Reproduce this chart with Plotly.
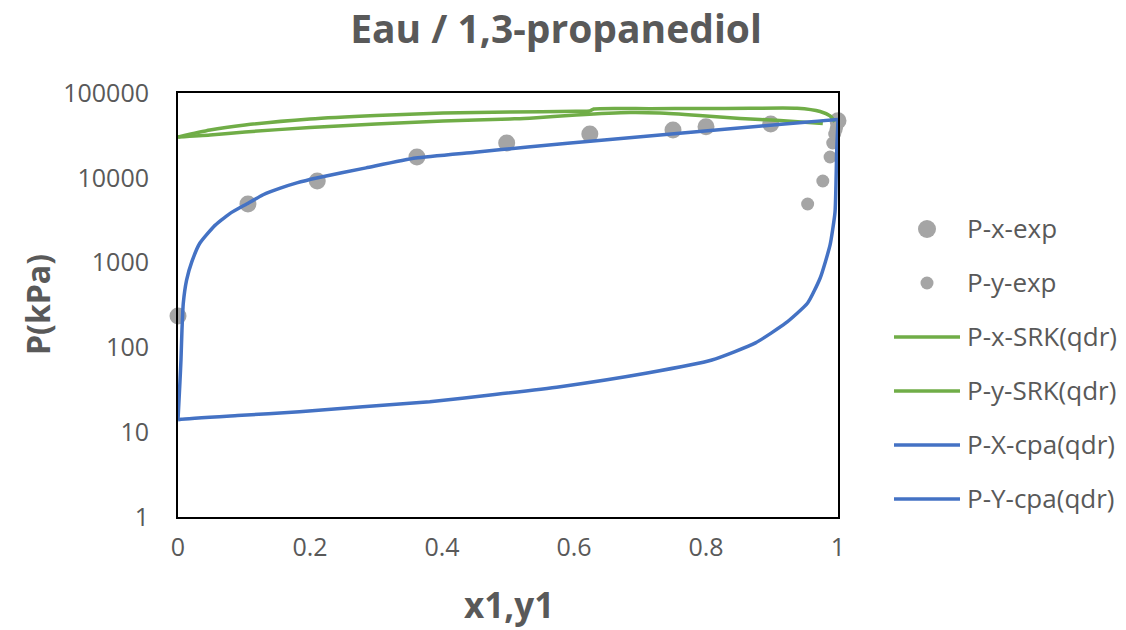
import plotly.graph_objects as go

# ---------------- data ----------------
x_exp = [0, 0.106, 0.211, 0.362, 0.498, 0.624, 0.75, 0.80, 0.898, 1.0]
P_x_exp = [234, 4910, 9170, 17590, 25720, 32850, 36620, 40050, 43100, 47000]

y_exp = [0, 0.954, 0.977, 0.988, 0.992, 0.995, 0.997, 0.998, 0.999, 1.0]
P_y_exp = [234, 4910, 9170, 17590, 25720, 32850, 36620, 40050, 43100, 47000]

x_srk = [0, 0.0485, 0.1015, 0.2, 0.3, 0.4015, 0.503, 0.603, 0.624, 0.630,
         0.715, 0.791, 0.867, 0.938, 0.973, 0.988, 0.995]
P_x_srk = [30280, 36620, 41940, 49360, 54290, 58120, 59700, 60830, 61340, 64770,
           65300, 65660, 66020, 66020, 60500, 53560, 45870]

y_srk = [0, 0.0485, 0.1015, 0.2, 0.3, 0.4015, 0.503, 0.533, 0.603, 0.685,
         0.73, 0.79, 0.852, 0.912, 0.977]
P_y_srk = [30280, 31960, 34690, 39200, 43100, 46750, 49360, 50310, 55030, 58890,
           58120, 54290, 50040, 47390, 43650]

x_cpa = [0, 0.003, 0.0045, 0.006, 0.008, 0.013, 0.021, 0.033, 0.054, 0.065,
         0.079, 0.104, 0.129, 0.155, 0.18, 0.21, 0.285, 0.36, 0.45, 0.53,
         0.65, 0.76, 0.88, 0.95, 0.99, 1.0]
P_x_cpa = [14, 40, 71, 160, 331, 623, 1025, 1690, 2650, 3140,
           3810, 4910, 6310, 7550, 8710, 9950, 13100, 17100, 20040, 23100,
           28060, 33480, 40470, 45260, 48040, 48600]

y_cpa = [0, 0.0045, 0.09, 0.184, 0.28, 0.3815, 0.48, 0.579, 0.711, 0.809,
         0.875, 0.921, 0.954, 0.973, 0.988, 0.9955, 0.998, 1.0]
P_y_cpa = [14, 14.2, 15.7, 17.4, 20.0, 22.9, 27.8, 34.4, 49.9, 71,
           113, 194, 334, 658, 1614, 3950, 20100, 48600]

series_names = ["P-x-exp", "P-y-exp", "P-x-SRK(qdr)", "P-y-SRK(qdr)",
                "P-X-cpa(qdr)", "P-Y-cpa(qdr)"]

x_ticks = [0, 0.2, 0.4, 0.6, 0.8, 1]
x_tick_text = ["0", "0.2", "0.4", "0.6", "0.8", "1"]
y_ticks = [1, 10, 100, 1000, 10000, 100000]
y_tick_text = ["1", "10", "100", "1000", "10000", "100000"]

# ---------------- styles ----------------
GREY = "#A5A5A5"
GREEN = "#70AD47"
BLUE = "#4472C4"
TEXT = "#595959"
FONT = "Open Sans"
LW = 3.5

fig = go.Figure()
fig.add_trace(go.Scatter(x=x_exp, y=P_x_exp, mode="markers", name=series_names[0],
                         marker=dict(color=GREY, size=17), cliponaxis=False))
fig.add_trace(go.Scatter(x=y_exp, y=P_y_exp, mode="markers", name=series_names[1],
                         marker=dict(color=GREY, size=13), cliponaxis=False))
fig.add_trace(go.Scatter(x=x_srk, y=P_x_srk, mode="lines", name=series_names[2],
                         line=dict(color=GREEN, width=LW, shape="spline", smoothing=0.6),
                         cliponaxis=False))
fig.add_trace(go.Scatter(x=y_srk, y=P_y_srk, mode="lines", name=series_names[3],
                         line=dict(color=GREEN, width=LW, shape="spline", smoothing=0.6),
                         cliponaxis=False))
fig.add_trace(go.Scatter(x=x_cpa, y=P_x_cpa, mode="lines", name=series_names[4],
                         line=dict(color=BLUE, width=LW, shape="spline", smoothing=0.5),
                         cliponaxis=False))
fig.add_trace(go.Scatter(x=y_cpa, y=P_y_cpa, mode="lines", name=series_names[5],
                         line=dict(color=BLUE, width=LW, shape="spline", smoothing=0.5),
                         cliponaxis=False))

# ---------------- custom legend (to mimic the long line samples) ----------------
L_LEFT, L_W, T_H = 178, 660, 424  # plot area geometry in px


def px_x(p):
    return (p - L_LEFT) / L_W


def px_y(p):
    return (517 - p) / T_H


rows = [228, 282, 336, 390, 444, 498]
kinds = [("marker", GREY, 18), ("marker", GREY, 13), ("line", GREEN, 0),
         ("line", GREEN, 0), ("line", BLUE, 0), ("line", BLUE, 0)]
shapes = []
annotations = []
for name, ry, (kind, col, sz) in zip(series_names, rows, kinds):
    if kind == "marker":
        shapes.append(dict(type="circle", xref="paper", yref="paper",
                           xsizemode="pixel", ysizemode="pixel",
                           xanchor=px_x(927), yanchor=px_y(ry + 1),
                           x0=-sz / 2, x1=sz / 2, y0=-sz / 2, y1=sz / 2,
                           fillcolor=col, line=dict(width=0)))
    else:
        shapes.append(dict(type="line", xref="paper", yref="paper",
                           x0=px_x(894), x1=px_x(960), y0=px_y(ry + 1), y1=px_y(ry + 1),
                           line=dict(color=col, width=LW)))
    annotations.append(dict(text=name, xref="paper", yref="paper",
                            x=px_x(965), y=px_y(ry), xanchor="left", yanchor="middle",
                            showarrow=False, font=dict(family=FONT, size=26, color=TEXT)))

annotations.append(dict(text="<b>x1,y1</b>", xref="paper", yref="paper",
                        x=px_x(509), y=px_y(604), xanchor="center", yanchor="middle",
                        showarrow=False, font=dict(family=FONT, size=35, color=TEXT)))
annotations.append(dict(text="<b>P(kPa)</b>", xref="paper", yref="paper",
                        x=px_x(37), y=px_y(305), xanchor="center", yanchor="middle",
                        textangle=-90, showarrow=False,
                        font=dict(family=FONT, size=32, color=TEXT)))

fig.update_layout(
    width=1126, height=630,
    margin=dict(l=178, r=288, t=93, b=113),
    paper_bgcolor="white", plot_bgcolor="white",
    showlegend=False,
    title=dict(text="<b>Eau / 1,3-propanediol</b>", x=556 / 1126, y=1 - 29 / 630,
               xanchor="center", yanchor="middle",
               font=dict(family=FONT, size=39, color=TEXT)),
    shapes=shapes,
    annotations=annotations,
)
fig.update_xaxes(range=[0, 1], tickvals=x_ticks, ticktext=x_tick_text,
                 showgrid=False, zeroline=False, showline=True, mirror=True,
                 linecolor="black", linewidth=2, ticks="",
                 ticklabelstandoff=7,
                 tickfont=dict(family=FONT, size=25, color=TEXT))
fig.update_yaxes(type="log", range=[0, 5], tickvals=y_ticks, ticktext=y_tick_text,
                 showgrid=False, zeroline=False, showline=True, mirror=True,
                 linecolor="black", linewidth=2, ticks="",
                 ticklabelstandoff=22,
                 tickfont=dict(family=FONT, size=25, color=TEXT))

fig.write_html("out.html", config={"displayModeBar": False},
               post_script="document.body.style.margin='0';document.body.style.overflow='hidden';")
